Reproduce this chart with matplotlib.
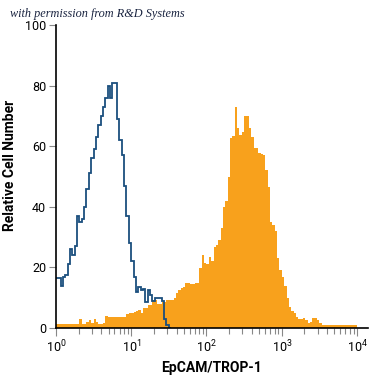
import numpy as np
import matplotlib
matplotlib.use("Agg")
import matplotlib.pyplot as plt
from matplotlib.ticker import LogLocator, FixedLocator, NullFormatter

# 128 logarithmic channels spanning 10^0 .. 10^4
n_bins = 128
decades = 4

# Isotype control (blue outline), first 49 channels
blue = [16.6, 16.6, 14, 17, 17.5, 21, 26, 24, 27, 37,
        35, 36, 40, 46, 51, 56, 59, 63, 67, 70,
        73, 76, 80, 76, 81, 81, 69, 62, 57, 47,
        37, 28, 22, 17, 12, 13.5, 12.5, 13, 8.5, 12.5,
        11, 9, 10, 10, 10, 9, 3, 1, 0]

# EpCAM/TROP-1 stained cells (orange filled)
orange = [1.2, 1.2, 1.2, 1.2, 1.2, 1.2, 1.2, 1.2, 1.2, 1.2,
          3, 1.2, 1.2, 2, 2.8, 1.5, 3, 2, 1.2, 1.2,
          1.5, 4, 3.5, 3.5, 3.5, 3.5, 3.5, 3.5, 3.5, 3.7,
          4.5, 4.8, 5, 5.4, 5.6, 6, 4.8, 6.6, 6.6, 7.6,
          7.6, 9.2, 9.2, 8, 8, 8.7, 8.7, 9.2, 9.2, 9.2,
          10, 11.5, 12.5, 13.2, 13.5, 14.9, 14.9, 14.5, 14.5, 14.9,
          15, 19.8, 24, 21.4, 21, 23.5, 22, 26.8, 27.5, 29,
          33, 40, 42, 50, 62.7, 63.5, 73, 66, 63.7, 64.8,
          70, 70, 66, 63, 59.3, 59.3, 57.6, 57.3, 57, 52,
          46.6, 35, 34, 32, 23, 19, 17, 14, 10, 7,
          5.5, 5, 3.7, 2.9, 2.9, 3.2, 2.5, 1.8, 2, 3.2,
          3.2, 2.6, 1.5, 1.0, 1.0, 1.0, 1.0, 1.0, 1.0, 1.0,
          1.0, 1.0, 1.0, 1.0, 1.0, 1.0, 1.0, 1.0]

y_ticks = [0, 20, 40, 60, 80, 100]
x_label = "EpCAM/TROP-1"
y_label = "Relative Cell Number"
credit = "with permission from R&D Systems"

plt.rcParams["font.family"] = ["Roboto", "DejaVu Sans"]
plt.rcParams["mathtext.fontset"] = "custom"
plt.rcParams["mathtext.rm"] = "Roboto"
plt.rcParams["mathtext.it"] = "Roboto:italic"
plt.rcParams["mathtext.bf"] = "Roboto:bold"

edges = 10.0 ** (np.arange(n_bins + 1) * decades / n_bins)

fig = plt.figure(figsize=(3.75, 3.75), dpi=100)
ax = fig.add_axes([0.149, 0.1253, 0.832, 0.808])

ax.stairs(orange, edges, fill=True, color="#F8A11C", linewidth=0)
ax.stairs(blue, edges[:len(blue) + 1], color="#1B4F7E", linewidth=1.3,
          baseline=None)

ax.set_xscale("log")
ax.set_xlim(1, 10 ** 4.143)
ax.set_ylim(0, 100)

for s in ["top", "right"]:
    ax.spines[s].set_visible(False)
for s in ["left", "bottom"]:
    ax.spines[s].set_linewidth(1.2)
    ax.spines[s].set_color("black")

ax.set_yticks(y_ticks)
ax.xaxis.set_major_locator(FixedLocator([1, 10, 100, 1000, 10000]))
ax.xaxis.set_minor_locator(LogLocator(base=10, subs=np.arange(2, 10), numticks=20))
ax.xaxis.set_minor_formatter(NullFormatter())

ax.tick_params(axis="y", direction="out", length=5, width=0.8, color="#888888",
               labelsize=9, pad=2)
ax.tick_params(axis="x", which="major", direction="out", length=6, width=0.8,
               color="#888888", labelsize=9, pad=1.5)
ax.tick_params(axis="x", which="minor", direction="out", length=4, width=0.8,
               color="#888888")

ax.set_xlabel(x_label, fontsize=10, fontweight="bold", labelpad=4)
ax.set_ylabel(y_label, fontsize=10, fontweight="bold")
ax.yaxis.set_label_coords(-0.125, 0.535)

fig.text(0.027, 0.962, credit, fontsize=8.8, family=["Liberation Serif", "DejaVu Serif"],
         style="italic", color="#1a2440", ha="left", va="center")

fig.savefig("out.png", dpi=100, facecolor="white")
